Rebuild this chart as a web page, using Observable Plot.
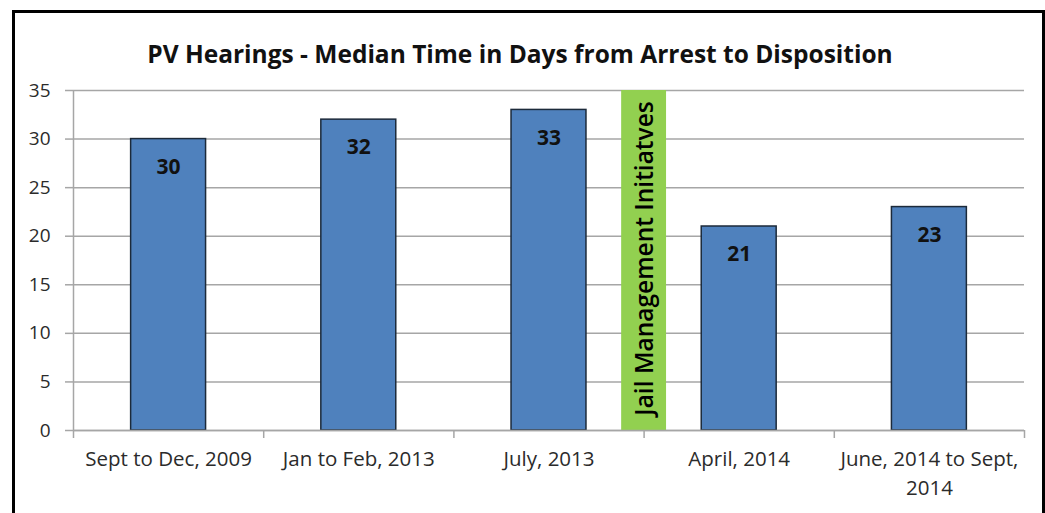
<!DOCTYPE html>
<html>
<head>
<meta charset="utf-8">
<script src="https://cdn.jsdelivr.net/npm/d3@7"></script>
<script src="https://cdn.jsdelivr.net/npm/@observablehq/plot@0.6"></script>
<style>
  html, body { margin: 0; padding: 0; background: #fff; }
  #wrap { position: relative; width: 1045px; height: 513px; overflow: hidden; }
  #border { position: absolute; left: 12px; top: 10px; width: 1033px; height: 520px; border: 3px solid #000; box-sizing: border-box; pointer-events: none; }
</style>
</head>
<body>
<div id="wrap"><div id="border"></div></div>
<script>
const categories = ["Sept to Dec, 2009", "Jan to Feb, 2013", "July, 2013", "April, 2014", "June, 2014 to Sept,\n2014"];
const values = [30, 32, 33, 21, 23];
const yTicks = [0, 5, 10, 15, 20, 25, 30, 35];
const title = "PV Hearings - Median Time in Days from Arrest to Disposition";
const annotationText = "Jail Management Initiatves";
const annotationAfter = "July, 2013"; // initiatives began between this period and the next

const data = categories.map((c, i) => ({category: c, index: i, value: values[i]}));
const annIndex = categories.indexOf(annotationAfter) + 1;
const annotation = [{pos: annIndex, text: annotationText}];
const boundaries = d3.range(categories.length + 1);

const font = "'Open Sans', 'Liberation Sans', sans-serif";
const half = 0.197;
const annHalf = 0.118;

const chart = Plot.plot({
  width: 1045,
  height: 513,
  marginTop: 90,
  marginBottom: 83,
  marginLeft: 73,
  marginRight: 21,
  style: {fontFamily: font, background: "transparent"},
  x: {type: "linear", domain: [0, categories.length]},
  y: {type: "linear", domain: [0, 35]},
  marks: [
    Plot.gridY(yTicks, {stroke: "#a6a6a6", strokeOpacity: 1, strokeWidth: 1.5}),
    Plot.axisY({ticks: yTicks, tickSize: 8, tickPadding: 15, stroke: "#a6a6a6", strokeWidth: 1.5, fill: "#2b2b2b", fontSize: 19, label: null}),
    Plot.ruleX([0], {stroke: "#a6a6a6", strokeWidth: 1.5}),
    Plot.rect(annotation, {x1: d => d.pos - annHalf, x2: d => d.pos + annHalf, y1: 0, y2: 35, fill: "#92d050"}),
    Plot.text(annotation, {x: "pos", y: 17.5, text: "text", rotate: -90, fill: "#000", fontSize: 24.5, fontWeight: 600, dx: 1, dy: -2}),
    Plot.rectY(data, {x1: d => d.index + 0.5 - half, x2: d => d.index + 0.5 + half, y1: 0, y2: "value", fill: "#4f81bd", stroke: "#1c2a3a", strokeWidth: 1.5}),
    Plot.text(data, {x: d => d.index + 0.5, y: "value", text: d => String(d.value), dy: 28, fill: "#111", fontSize: 21, fontWeight: "bold"}),
    Plot.ruleY([0], {stroke: "#a6a6a6", strokeWidth: 1.5}),
    Plot.axisX({ticks: boundaries, tickSize: 8, tickFormat: () => "", stroke: "#a6a6a6", strokeWidth: 1.5, label: null}),
    Plot.text(data, {x: d => d.index + 0.5, y: 0, text: "category", dy: 15, lineAnchor: "top", lineHeight: 1.4, fill: "#2b2b2b", fontSize: 20.5}),
    Plot.text([title], {frameAnchor: "top", dy: -45, dx: -29, text: d => d, fontSize: 24.5, fontWeight: "bold", fill: "#111"})
  ]
});
document.getElementById("wrap").prepend(chart);
</script>
</body>
</html>
